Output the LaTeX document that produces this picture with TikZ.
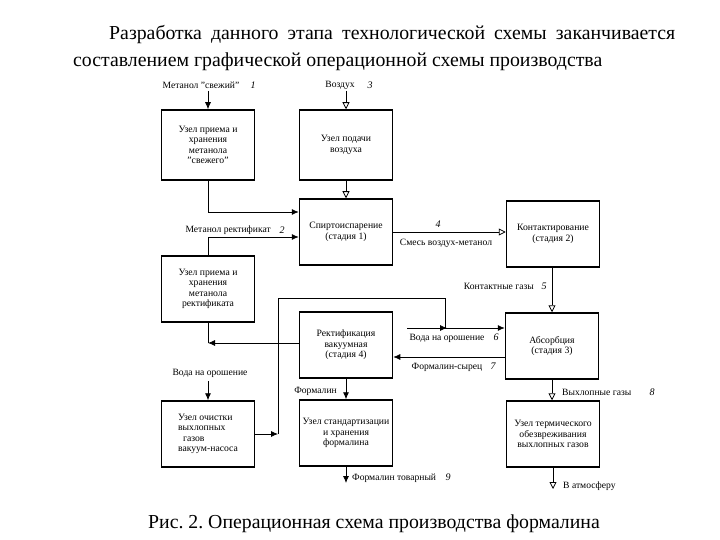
\documentclass[tikz,border=0pt]{standalone}
\usepackage{fontspec}
\setmainfont{Liberation Serif}
\usepackage{tikz}
\usetikzlibrary{arrows.meta}
\frenchspacing

\begin{document}
\begin{tikzpicture}[x=1pt,y=-1pt,
    blok/.style={draw, line width=1.5pt, minimum width=93pt, minimum height=66pt,
        align=center, inner sep=1pt, font=\fontsize{9.7}{10.5}\selectfont},
    podp/.style={font=\fontsize{9.6}{10}\selectfont, inner sep=1pt},
    nomer/.style={font=\itshape\fontsize{10}{10}\selectfont, inner sep=1pt},
    potok/.style={-{Latex[length=7pt,width=6pt]}, line width=0.8pt},
    gaz/.style={-{Triangle[open,length=7pt,width=7pt]}, line width=0.8pt}]
    \path[use as bounding box] (0,0) rectangle (720,540);

    % tekst nad skhemoj
    \node (zagol) [anchor=north west, text width=602pt, align=justify, inner sep=0pt,
        font=\fontsize{19.8}{27}\selectfont] at (73,25)
        {\hspace*{36pt}Разработка данного этапа технологической схемы заканчивается\linebreak
        составлением графической операционной схемы производства};

    % bloki
    \node (svezh)  [blok, minimum height=70pt] at (208,145) {Узел приема и\\ хранения\\ метанола\\ "свежего"};
    \node (vozduh) [blok, minimum height=70pt] at (346,145) {Узел подачи\\ воздуха};
    \node (spirt)  [blok] at (346,232) {Спиртоиспарение\\ (стадия 1)};
    \node (kontakt)[blok] at (553,234) {Контактирование\\ (стадия 2)};
    \node (rekt)   [blok] at (208,289) {Узел приема и\\ хранения\\ метанола\\ ректификата};
    \node (rektif) [blok] at (346,345) {Ректификация\\ вакуумная\\ (стадия 4)};
    \node (absorb) [blok] at (552,346) {Абсорбция\\ (стадия 3)};
    \node (ochist) [blok, align=left] at (208,434) {Узел очистки\\ выхлопных\\ \hspace*{5pt}газов\\ вакуум-насоса};
    \node (standart)[blok] at (346,433) {Узел стандартизации\\ и хранения\\ формалина};
    \node (termich)[blok] at (553,434) {Узел термического\\ обезвреживания\\ выхлопных газов};

    % podpisi potokov
    \node (p1) [podp] at (201,85) {Метанол "свежий"};
    \node (n1) [nomer] at (253,85) {1};
    \node (p3) [podp] at (340,85) {Воздух};
    \node (n3) [nomer] at (370,85) {3};
    \node (p2) [podp, anchor=east] at (272,230) {Метанол ректификат};
    \node (n2) [nomer] at (282,230) {2};
    \node (n4) [nomer] at (438,224) {4};
    \node (p4) [podp] at (446,243) {Смесь воздух-метанол};
    \node (p5) [podp, anchor=east] at (535,286) {Контактные газы};
    \node (n5) [nomer] at (544,286) {5};
    \node (p6) [podp] at (447,338) {Вода на орошение};
    \node (n6) [nomer] at (496,337) {6};
    \node (p7) [podp] at (447,367) {Формалин-сырец};
    \node (n7) [nomer] at (493,366) {7};
    \node (pv) [podp] at (210,373) {Вода на орошение};
    \node (pf) [podp, anchor=east] at (338,391) {Формалин};
    \node (p9) [podp, anchor=west] at (351,478) {Формалин товарный};
    \node (n9) [nomer] at (448,477) {9};
    \node (p8) [podp, anchor=west] at (561,392) {Выхлопные газы};
    \node (n8) [nomer] at (652,392) {8};
    \node (pa) [podp, anchor=west] at (562,486) {В атмосферу};

    \node (podpis) [anchor=base, font=\fontsize{19.8}{22}\selectfont] at (374,528)
        {Рис. 2. Операционная схема производства формалина};

    % svobodnye koncy
    \coordinate (vh1) at (208,91);
    \coordinate (vh3) at (346,91);
    \coordinate (vhv) at (208,381);
    \coordinate (vyh9) at (346,483);
    \coordinate (vyhA) at (553,489);
    \coordinate (vh6) at (407,328);
    \coordinate (petlA) at (278,434);
    \coordinate (petlB) at (445,328);
    \coordinate (sbros) at (208,343);

    % potoki
    \draw[potok] (vh1) -- (svezh.north);
    \draw[gaz] (vh3) -- (vozduh.north);
    \draw[gaz] (vozduh.south) -- (spirt.north);
    \draw[potok] (svezh.south) |- ([yshift=20pt]spirt.west);
    \draw[potok] (rekt.north) |- ([yshift=-5pt]spirt.west);
    \draw[gaz] (spirt.east) -- (spirt.east -| kontakt.west);
    \draw[gaz] (kontakt.south -| absorb.north) -- (absorb.north);
    \draw[potok] (vh6) -- (vh6 -| absorb.west);
    \draw[potok] ([yshift=-11pt]absorb.west) -- ([yshift=-11pt]absorb.west -| rektif.east);
    \draw (rekt.south) -- (sbros);
    \draw[potok] (rektif.west |- sbros) -- (sbros);
    \draw[potok] (vhv) -- (ochist.north);
    \draw[potok] (ochist.east |- petlA) -- (petlA);
    \draw (petlA) -- (278,298) -| (petlB);
    \draw[potok] ([xshift=-5pt]petlB) -- ([xshift=2pt]petlB);
    \draw[potok] (rektif.south) -- (standart.north);
    \draw[potok] (standart.south) -- (vyh9);
    \draw[gaz] (absorb.south) -- (absorb.south |- termich.north);
    \draw[gaz] (termich.south) -- (vyhA);

\end{tikzpicture}
\end{document}
